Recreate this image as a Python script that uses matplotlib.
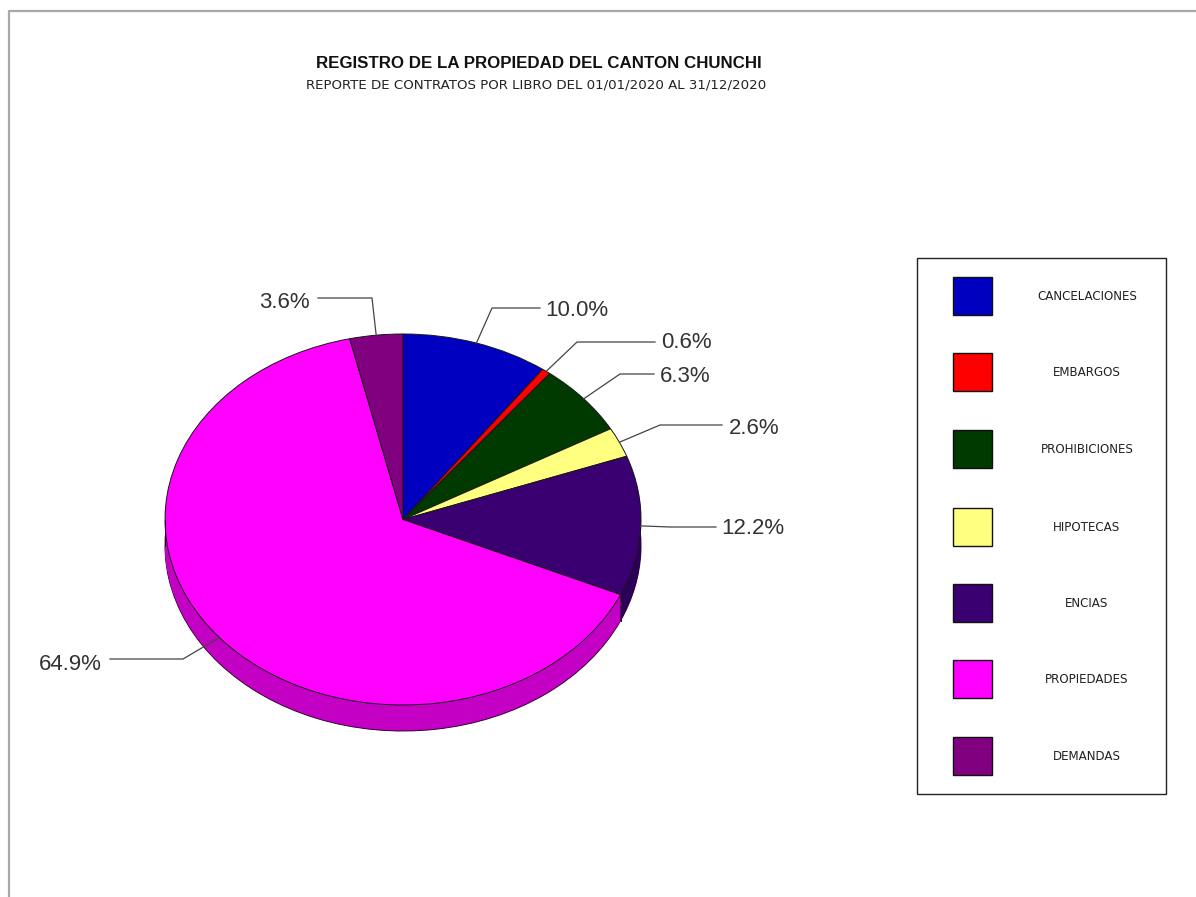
import numpy as np
import matplotlib
matplotlib.use('Agg')
import matplotlib.pyplot as plt
from matplotlib.patches import Rectangle

plt.rcParams['font.family'] = ['Liberation Sans', 'DejaVu Sans']

libros = ['CANCELACIONES', 'EMBARGOS', 'PROHIBICIONES', 'HIPOTECAS', 'ENCIAS', 'PROPIEDADES', 'DEMANDAS']
porcentajes = [10.0, 0.6, 6.3, 2.6, 12.2, 64.9, 3.6]
colores = ['#0000C0', '#FF0000', '#003A00', '#FFFF80', '#3A0072', '#FF00FF', '#800080']
colores_lado = ['#000090', '#C00000', '#003000', '#C0C060', '#2A0058', '#C400C4', '#600060']

titulo = 'REGISTRO DE LA PROPIEDAD DEL CANTON CHUNCHI'
subtitulo = 'REPORTE DE CONTRATOS POR LIBRO DEL 01/01/2020 AL 31/12/2020'

# posiciones en pixeles de la imagen
W, H = 1196, 897
cx, cy, rx, ry = 403, 519.5, 238, 185.5
alto = 26
codo = [(492, 308), (577, 342), (620, 374), (660, 425), (670, 527), (183, 659), (372, 298)]
fin_linea = [(540, 308), (655, 342), (654, 374), (722, 425), (716, 527), (110, 659), (318, 298)]
pos_texto = [(577, 310), (686, 343), (685, 376), (754, 428), (753, 529), (70, 665), (284, 303)]
ley_y = [296, 372, 449, 527, 603, 679, 756]

fig = plt.figure(figsize=(W / 100, H / 100), dpi=100, facecolor='white')

# torta: la elipse sale de usar aspecto libre
ax_pie = fig.add_axes([(cx - rx) / W, 1 - (cy + ry + alto) / H, 2 * rx / W, (2 * ry + alto) / H])
for d in range(alto, 0, -1):
    ax_pie.pie(porcentajes, colors=colores_lado, startangle=90, counterclock=False,
               center=(0, -d / ry), radius=1,
               wedgeprops={'edgecolor': '#300030' if d == alto else 'none', 'linewidth': 0.7})
partes, _ = ax_pie.pie(porcentajes, colors=colores, startangle=90, counterclock=False,
                       center=(0, 0), radius=1,
                       wedgeprops={'edgecolor': '#181818', 'linewidth': 0.7})
ax_pie.set_aspect('auto')
ax_pie.set_xlim(-1, 1)
ax_pie.set_ylim(-1 - alto / ry, 1)

# bordes verticales del lado
bordes = [180, 0]
for p in partes:
    if np.sin(np.radians(p.theta1)) < 0:
        bordes.append(p.theta1)
for t in bordes:
    x = np.cos(np.radians(t))
    y = np.sin(np.radians(t))
    ax_pie.plot([x, x], [y, y - alto / ry], color='#300030', lw=0.7)

# capa en pixeles para lo demas
ax = fig.add_axes([0, 0, 1, 1], facecolor='none')
ax.set_xlim(0, W)
ax.set_ylim(H, 0)
ax.axis('off')

ax.plot([1196, 8.5, 8.5], [11.5, 11.5, 897], color='#a8a8a8', lw=1.6)

ax.text(538.5, 64, titulo, ha='center', va='center', fontsize=12.15, fontweight='bold', color='#111111')
ax.text(536.5, 85, subtitulo, ha='center', va='center', fontsize=9.6, family='DejaVu Sans', color='#222222')

for i, p in enumerate(partes):
    medio = np.radians((p.theta1 + p.theta2) / 2)
    ax0 = cx + rx * np.cos(medio)
    ay0 = cy - ry * np.sin(medio)
    ax.plot([ax0, codo[i][0], fin_linea[i][0]], [ay0, codo[i][1], fin_linea[i][1]], color='#444444', lw=0.9)
    ax.text(pos_texto[i][0], pos_texto[i][1], f'{porcentajes[i]:.1f}%', ha='center', va='center',
            fontsize=16, color='#333333')

# leyenda
ax.add_patch(Rectangle((917, 258), 249, 536, facecolor='white', edgecolor='#222222', lw=1))
for i, nombre in enumerate(libros):
    ax.add_patch(Rectangle((953, ley_y[i] - 19), 39, 38, facecolor=colores[i], edgecolor='#111111', lw=1))
    ax.text(1087, ley_y[i] + 0.5, nombre, ha='center', va='center', fontsize=8.6, family='DejaVu Sans',
            color='#222222')

fig.savefig('out.png', dpi=100)
